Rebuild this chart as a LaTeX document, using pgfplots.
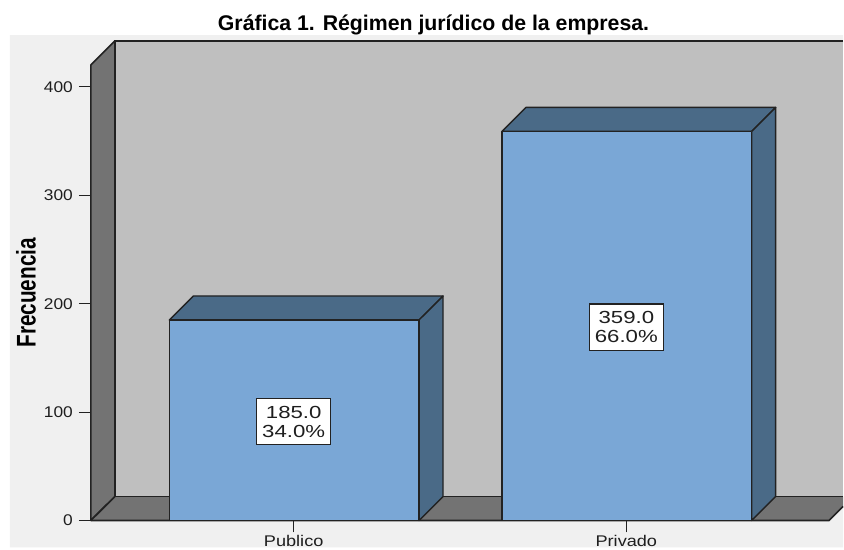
\documentclass[border=0pt]{standalone}
\usepackage{fontspec}
\usepackage{pgfplots}
\pgfplotsset{compat=1.18}
\setmainfont{Liberation Sans}
\newfontfamily\ytickfont[FakeStretch=1.12]{Liberation Sans}
\newfontfamily\xtickfont[FakeStretch=1.17]{Liberation Sans}
\newfontfamily\boxfont[FakeStretch=1.27]{Liberation Sans}
\newfontfamily\ylabfont[FakeStretch=0.77]{Liberation Sans}
\definecolor{framebg}{HTML}{F0F0F0}
\definecolor{wall}{HTML}{BFBFBF}
\definecolor{sidewall}{HTML}{737373}
\definecolor{barfront}{HTML}{7AA7D6}
\definecolor{bardark}{HTML}{4A6A87}
\definecolor{edge}{HTML}{222222}
\definecolor{txt}{HTML}{1E1E1E}

\begin{document}
\begin{tikzpicture}
  % x is in image pixels, y in frequency; the depth offset is 24 px = 22.1 units
  \begin{axis}[
      scale only axis,
      width=753pt,
      height=480pt,
      xmin=91, xmax=844,
      ymin=0, ymax=442.4,
      clip=false,
      axis on top,
      axis line style={draw=none},
      xtick={294,627},
      xticklabels={Publico,Privado},
      ytick={0,100,200,300,400},
      tick align=outside,
      xtick pos=bottom,
      ytick pos=left,
      major tick length=12pt,
      tick style={line width=1.1pt, color=edge},
      /pgf/number format/assume math mode=true,
      yticklabel style={font=\ytickfont\fontsize{15.5}{18}\selectfont, text=txt, xshift=-2.5pt},
      xticklabel style={font=\xtickfont\fontsize{15.5}{18}\selectfont, text=txt, yshift=1pt},
      title={\textbf{Gráfica 1. Régimen jurídico de la empresa.}},
      title style={at={(axis description cs:0.4555,1.0207)}, anchor=center,
        font=\fontsize{21.3}{24}\selectfont, inner sep=0pt},
      ylabel={\textbf{Frecuencia}},
      ylabel style={at={(axis description cs:-0.0863,0.475)}, anchor=center,
        font=\ylabfont\fontsize{27}{29}\selectfont, inner sep=0pt},
    ]
    % page and grey frame
    \addplot[fill=white, draw=none] coordinates {(0,-24.9) (844,-24.9) (844,480.2) (0,480.2)} \closedcycle;
    \addplot[fill=framebg, draw=none] coordinates {(10,-24.9) (844,-24.9) (844,447.9) (10,447.9)} \closedcycle;
    % back wall, side wall, floor
    \addplot[fill=wall, draw=none] coordinates {(115,22.1) (844,22.1) (844,442.4) (115,442.4)} --cycle;
    \addplot[draw=edge, line width=1.8pt] coordinates {(844,442.4) (115,442.4) (115,22.1)};
    \addplot[fill=sidewall, draw=edge, line width=1.6pt, line join=round] coordinates {(91,0) (115,22.1) (115,442.4) (91,420.3)} --cycle;
    \addplot[fill=sidewall, draw=none] coordinates {(91,0) (115,22.1) (844,22.1) (844,12.9) (830,0)} --cycle;
    \addplot[draw=edge, line width=1.6pt] coordinates {(115,22.1) (844,22.1)};
    \addplot[draw=edge, line width=1.6pt] coordinates {(91,0) (115,22.1)};
    \addplot[draw=edge, line width=1.6pt] coordinates {(844,12.9) (830,0) (91,0)};
    % Publico
    \addplot[fill=bardark, draw=edge, line width=1.4pt, line join=round] coordinates {(169.5,185) (193.5,207.1) (443.5,207.1) (419.5,185)} --cycle;
    \addplot[fill=bardark, draw=edge, line width=1.4pt, line join=round] coordinates {(419.5,0) (443.5,22.1) (443.5,207.1) (419.5,185)} --cycle;
    \addplot[fill=barfront, draw=edge, line width=1.4pt, line join=round] coordinates {(169.5,0) (419.5,0) (419.5,185) (169.5,185)} --cycle;
    % Privado
    \addplot[fill=bardark, draw=edge, line width=1.4pt, line join=round] coordinates {(502.5,359) (526.5,381.1) (776.5,381.1) (752.5,359)} --cycle;
    \addplot[fill=bardark, draw=edge, line width=1.4pt, line join=round] coordinates {(752.5,0) (776.5,22.1) (776.5,381.1) (752.5,359)} --cycle;
    \addplot[fill=barfront, draw=edge, line width=1.4pt, line join=round] coordinates {(502.5,0) (752.5,0) (752.5,359) (502.5,359)} --cycle;
    % data labels
    \addplot[only marks, mark=none, point meta=explicit symbolic,
      nodes near coords,
      nodes near coords style={anchor=center, align=center, draw=edge, fill=white,
        line width=1.1pt, text=txt, inner xsep=5.5pt, inner ysep=7.5pt,
        font=\boxfont\fontsize{17.5}{19}\selectfont}]
      coordinates {(294,91.2) [185.0\\34.0\%] (627,178.3) [359.0\\66.0\%]};
  \end{axis}
\end{tikzpicture}
\end{document}
